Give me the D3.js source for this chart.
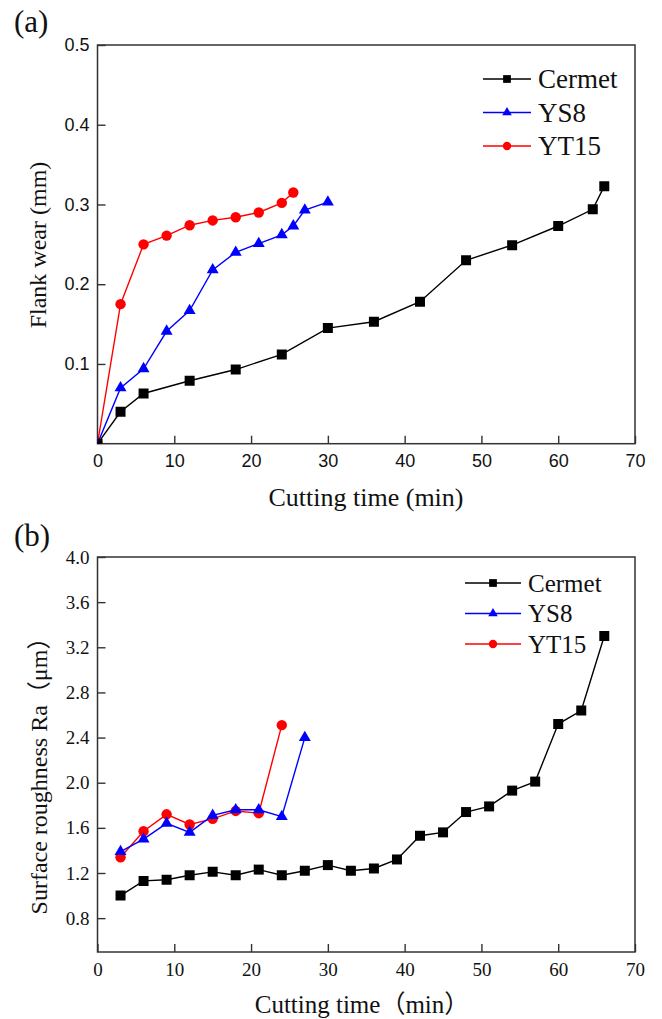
<!DOCTYPE html>
<html>
<head>
<meta charset="utf-8">
<script src="https://cdn.jsdelivr.net/npm/d3@7"></script>
<style>
  body { margin: 0; background: #fff; }
  svg { display: block; }
</style>
</head>
<body>
<svg id="fig" width="662" height="1019"></svg>
<script>
// (a) flank wear vs cutting time
const wearCermetTime = [0, 3, 6, 12, 18, 24, 30, 36, 42, 48, 54, 60, 64.5, 66];
const wearCermet = [0, 0.040, 0.063, 0.079, 0.093, 0.112, 0.145, 0.153, 0.178, 0.230, 0.249, 0.273, 0.294, 0.323];
const wearYS8Time = [0, 3, 6, 9, 12, 15, 18, 21, 24, 25.5, 27, 30];
const wearYS8 = [0, 0.070, 0.094, 0.141, 0.167, 0.218, 0.240, 0.251, 0.262, 0.273, 0.293, 0.303];
const wearYT15Time = [0, 3, 6, 9, 12, 15, 18, 21, 24, 25.5];
const wearYT15 = [0, 0.175, 0.250, 0.261, 0.274, 0.280, 0.284, 0.290, 0.302, 0.315];

// (b) surface roughness vs cutting time
const roughCermetTime = [3, 6, 9, 12, 15, 18, 21, 24, 27, 30, 33, 36, 39, 42, 45, 48, 51, 54, 57, 60, 63, 66];
const roughCermet = [1.00, 1.13, 1.14, 1.18, 1.21, 1.18, 1.23, 1.18, 1.22, 1.27, 1.22, 1.24, 1.32, 1.53, 1.56, 1.74, 1.79, 1.93, 2.01, 2.52, 2.64, 3.30];
const roughYS8Time = [3, 6, 9, 12, 15, 18, 21, 24, 27];
const roughYS8 = [1.39, 1.50, 1.64, 1.56, 1.71, 1.76, 1.76, 1.70, 2.40];
const roughYT15Time = [3, 6, 9, 12, 15, 18, 21, 24];
const roughYT15 = [1.34, 1.57, 1.72, 1.63, 1.68, 1.75, 1.73, 2.51];

const xTicks = [0, 10, 20, 30, 40, 50, 60, 70];
const wearTicks = [0.1, 0.2, 0.3, 0.4, 0.5];
const roughTicks = [0.8, 1.2, 1.6, 2.0, 2.4, 2.8, 3.2, 3.6, 4.0];
const seriesNames = ["Cermet", "YS8", "YT15"];

const serif = "'Liberation Serif', 'Noto Sans CJK SC', serif";
const sans = "'Liberation Sans', Arial, sans-serif";

const style = {
  Cermet: { color: "#000", symbol: d3.symbolSquare, size: 100, lsize: 60 },
  YS8: { color: "#0000ff", symbol: d3.symbolTriangle, size: 62, lsize: 40 },
  YT15: { color: "#ff0000", symbol: d3.symbolCircle, size: 85, lsize: 55 }
};

const svg = d3.select("#fig");

function zip(xs, ys) { return xs.map((x, i) => ({ x: x, y: ys[i] })); }

function panel(o) {
  const x = d3.scaleLinear().domain([0, 70]).range([o.left, o.right]);
  const y = d3.scaleLinear().domain(o.yDomain).range([o.bottom, o.top]);
  const g = svg.append("g");

  g.append("clipPath").attr("id", o.id + "clip")
    .append("rect")
    .attr("x", o.left).attr("y", o.top)
    .attr("width", o.right - o.left).attr("height", o.bottom - o.top);

  // axes, ticks inward
  const xa = g.append("g").attr("transform", "translate(0," + o.bottom + ")")
    .call(d3.axisBottom(x).tickValues(xTicks).tickFormat(d3.format("d"))
      .tickSizeInner(-8).tickSizeOuter(0).tickPadding(11));
  const ya = g.append("g").attr("transform", "translate(" + o.left + ",0)")
    .call(d3.axisLeft(y).tickValues(o.yTicks).tickFormat(d3.format(".1f"))
      .tickSizeInner(-8).tickSizeOuter(0).tickPadding(8));
  [xa, ya].forEach(a => {
    a.select(".domain").remove();
    a.selectAll("line").attr("stroke", "#333").attr("stroke-width", 1.4);
    a.selectAll("text").attr("font-family", o.tickFont).attr("font-size", o.tickSize).attr("fill", "#111");
  });

  g.append("rect")
    .attr("x", o.left).attr("y", o.top)
    .attr("width", o.right - o.left).attr("height", o.bottom - o.top)
    .attr("fill", "none").attr("stroke", "#333").attr("stroke-width", 1.5);

  const line = d3.line().x(d => x(d.x)).y(d => y(d.y));
  const plot = g.append("g").attr("clip-path", "url(#" + o.id + "clip)");
  o.series.forEach(s => {
    const st = style[s.name];
    const pts = zip(s.xs, s.ys);
    plot.append("path").datum(pts)
      .attr("d", line).attr("fill", "none")
      .attr("stroke", st.color).attr("stroke-width", 1.4);
    plot.selectAll(null).data(pts).enter().append("path")
      .attr("d", d3.symbol().type(st.symbol).size(st.size))
      .attr("transform", d => "translate(" + x(d.x) + "," + y(d.y) + ")")
      .attr("fill", st.color);
  });

  // legend
  const lg = g.append("g");
  seriesNames.forEach((name, i) => {
    const st = style[name];
    const cy = o.legY + i * o.legStep;
    lg.append("line").attr("x1", o.legX0).attr("x2", o.legX1)
      .attr("y1", cy).attr("y2", cy)
      .attr("stroke", st.color).attr("stroke-width", 1.4);
    lg.append("path")
      .attr("d", d3.symbol().type(st.symbol).size(st.lsize))
      .attr("transform", "translate(" + (o.legX0 + o.legX1) / 2 + "," + cy + ")")
      .attr("fill", st.color);
    lg.append("text").attr("x", o.legX1 + 7).attr("y", cy + o.legFont * 0.34)
      .attr("font-family", serif).attr("font-size", o.legFont).attr("fill", "#111")
      .text(name);
  });

  // titles
  g.append("text").attr("x", o.xTitleX).attr("y", o.xTitleY)
    .attr("text-anchor", "middle").attr("font-family", serif)
    .attr("font-size", o.titleFont).attr("fill", "#111").text(o.xTitle);
  g.append("text")
    .attr("transform", "translate(" + o.yTitleX + "," + o.yTitleY + ") rotate(-90)")
    .attr("text-anchor", "middle").attr("font-family", serif)
    .attr("font-size", 24).attr("fill", "#111").text(o.yTitle);
  g.append("text").attr("x", 14).attr("y", o.tagY)
    .attr("font-family", serif).attr("font-size", 31).attr("fill", "#111").text(o.tag);
}

panel({
  id: "a", tag: "(a)", tagY: 32,
  left: 97.5, right: 635, top: 45, bottom: 443.7,
  yDomain: [0, 0.5], yTicks: wearTicks, tickFont: sans, tickSize: 18,
  series: [
    { name: "YT15", xs: wearYT15Time, ys: wearYT15 },
    { name: "YS8", xs: wearYS8Time, ys: wearYS8 },
    { name: "Cermet", xs: wearCermetTime, ys: wearCermet }
  ],
  legX0: 483, legX1: 531, legY: 79, legStep: 33.5, legFont: 27,
  xTitle: "Cutting time (min)", xTitleX: 366, xTitleY: 506, titleFont: 26,
  yTitle: "Flank wear (mm)", yTitleX: 46, yTitleY: 245
});

panel({
  id: "b", tag: "(b)", tagY: 546,
  left: 97.5, right: 635, top: 557, bottom: 952,
  yDomain: [0.5, 4.0], yTicks: roughTicks, tickFont: serif, tickSize: 19,
  series: [
    { name: "YT15", xs: roughYT15Time, ys: roughYT15 },
    { name: "YS8", xs: roughYS8Time, ys: roughYS8 },
    { name: "Cermet", xs: roughCermetTime, ys: roughCermet }
  ],
  legX0: 465, legX1: 521, legY: 583, legStep: 30.5, legFont: 25,
  xTitle: "Cutting time（min）", xTitleX: 362, xTitleY: 1013, titleFont: 25,
  yTitle: "Surface roughness Ra（μm）", yTitleX: 47, yTitleY: 770
});
</script>
</body>
</html>
